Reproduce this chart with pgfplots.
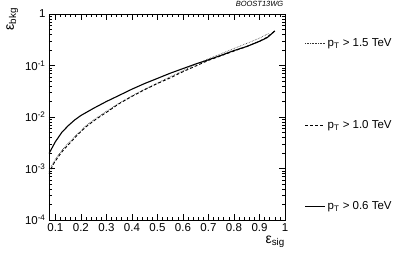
\documentclass[border=0pt]{standalone}
\usepackage{fontspec}
\setmainfont{Liberation Sans}
\usepackage{pgfplots}
\pgfplotsset{compat=1.18}

\begin{document}
\begin{tikzpicture}
\begin{axis}[
  scale only axis,
  width=236pt, height=206pt,
  ymode=log,
  xmin=0.075, xmax=1.0,
  ymin=1e-4, ymax=1,
  xtick={0.1,0.2,0.3,0.4,0.5,0.6,0.7,0.8,0.9,1},
  xticklabels={0.1,0.2,0.3,0.4,0.5,0.6,0.7,0.8,0.9,1},
  minor x tick num=4,
  ytick={1e-4,1e-3,1e-2,1e-1,1},
  yticklabels={10\textsuperscript{-4},10\textsuperscript{-3},10\textsuperscript{-2},10\textsuperscript{-1},1},
  tick align=inside,
  major tick length=6pt, minor tick length=3pt,
  tick style={line width=0.6pt, black},
  axis line style={line width=0.8pt},
  tick label style={font=\fontsize{11.5}{13}\selectfont},
  /pgf/number format/assume math mode=true,
  xlabel={ε\textsubscript{sig}},
  ylabel={ε\textsubscript{bkg}},
  xlabel style={at={(axis description cs:1,-0.075)}, anchor=north east, inner sep=0pt, font=\fontsize{14}{16}\selectfont},
  ylabel style={at={(axis description cs:-0.13,1.03)}, anchor=south east, inner sep=0pt, font=\fontsize{14}{16}\selectfont},
  title={BOOST13WG},
  title style={at={(axis description cs:1,1)}, anchor=south east, inner sep=1.5pt, font=\itshape\fontsize{7.5}{8}\selectfont},
  legend style={draw=none, fill=none, at={(axis description cs:1.07,0.461)}, anchor=west,
    row sep=68pt, font=\fontsize{11.5}{13}\selectfont},
  legend cell align=left,
  legend image code/.code={\draw[#1] (0cm,0cm) -- (0.7cm,0cm);},
]
\addplot[black!80, line width=0.6pt, densely dotted] coordinates {
(0.075,8.7e-4)(0.09,1.26e-3)(0.11,1.78e-3)(0.13,2.4e-3)(0.16,3.47e-3)
(0.19,4.9e-3)(0.22,6.76e-3)(0.26,9.55e-3)(0.30,1.29e-2)(0.35,1.86e-2)
(0.40,2.57e-2)(0.45,3.47e-2)(0.50,4.57e-2)(0.55,6.03e-2)(0.60,7.94e-2)
(0.65,0.105)(0.70,0.135)(0.75,0.170)(0.80,0.214)(0.85,0.269)
(0.90,0.339)(0.935,0.417)
};
\addplot[black, line width=0.9pt, dash pattern=on 3pt off 2pt] coordinates {
(0.075,7.9e-4)(0.09,1.17e-3)(0.11,1.66e-3)(0.13,2.24e-3)(0.16,3.24e-3)
(0.19,4.68e-3)(0.22,6.46e-3)(0.26,9.12e-3)(0.30,1.23e-2)(0.35,1.82e-2)
(0.40,2.51e-2)(0.45,3.39e-2)(0.50,4.47e-2)(0.55,5.75e-2)(0.60,7.59e-2)
(0.65,9.77e-2)(0.70,0.126)(0.75,0.155)(0.80,0.191)(0.85,0.234)
(0.90,0.295)(0.93,0.355)(0.96,0.468)
};
\addplot[black, line width=1.1pt] coordinates {
(0.075,1.95e-3)(0.10,3.31e-3)(0.125,5.01e-3)(0.15,6.76e-3)(0.175,8.71e-3)
(0.20,1.07e-2)(0.25,1.48e-2)(0.30,2.0e-2)(0.35,2.63e-2)(0.40,3.47e-2)
(0.45,4.47e-2)(0.50,5.62e-2)(0.55,7.08e-2)(0.60,8.71e-2)(0.65,0.107)
(0.70,0.129)(0.75,0.158)(0.80,0.195)(0.85,0.234)(0.90,0.295)
(0.93,0.347)(0.96,0.468)
};
\legend{p\textsubscript{T} > 1.5 TeV, p\textsubscript{T} > 1.0 TeV, p\textsubscript{T} > 0.6 TeV}
\end{axis}
\pgfresetboundingbox
\path (current axis.south west) ++(-49pt,-34pt) rectangle ++(399pt,254pt);
\end{tikzpicture}
\end{document}
